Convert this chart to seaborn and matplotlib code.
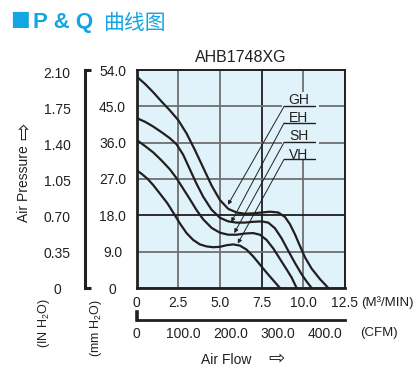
import matplotlib
matplotlib.use('Agg')
import matplotlib.pyplot as plt
import matplotlib.transforms as mtransforms
from matplotlib.patches import Rectangle
import pandas as pd
import seaborn as sns

# P-Q curves: flow in m3/min, static pressure in mmH2O
gh_flow = [0.0, 0.5, 1.0, 1.5, 2.0, 2.5, 3.0, 3.5, 4.0, 4.5, 5.0, 5.5, 6.0, 6.5,
           7.0, 7.5, 8.0, 8.5, 8.9, 9.2, 9.5, 9.8, 10.1, 10.5, 11.0, 11.5]
gh_pres = [52.4, 50.6, 48.5, 46.2, 44.0, 41.6, 38.3, 34.2, 29.8, 25.4, 21.8, 19.6, 18.7, 18.4,
           18.5, 18.7, 18.9, 18.7, 17.6, 15.8, 13.3, 10.4, 7.6, 4.8, 2.2, 0.0]

eh_flow = [0.0, 0.5, 1.0, 1.5, 2.0, 2.4, 2.8, 3.2, 3.6, 4.0, 4.5, 5.0, 5.5, 6.0,
           6.5, 7.0, 7.5, 7.9, 8.3, 8.7, 9.1, 9.5, 9.9, 10.2, 10.5]
eh_pres = [42.1, 41.2, 40.0, 38.6, 37.1, 35.6, 33.0, 29.4, 25.8, 22.6, 19.4, 17.4, 16.5, 16.2,
           16.2, 16.4, 16.5, 16.2, 14.8, 12.3, 9.2, 6.2, 3.4, 1.6, 0.0]

sh_flow = [0.0, 0.5, 1.0, 1.5, 2.0, 2.4, 2.8, 3.2, 3.6, 4.0, 4.5, 5.0, 5.5, 6.0,
           6.5, 7.0, 7.4, 7.8, 8.2, 8.6, 9.0, 9.3, 9.6]
sh_pres = [36.7, 35.2, 33.6, 31.6, 29.4, 27.2, 24.6, 22.0, 19.3, 17.0, 14.9, 13.7, 13.2, 13.2,
           13.5, 13.6, 13.2, 11.9, 9.8, 7.2, 4.6, 2.6, 0.0]

vh_flow = [0.0, 0.3, 0.65, 1.0, 1.4, 1.85, 2.2, 2.6, 3.0, 3.4, 3.8, 4.2, 4.6, 5.0,
           5.4, 5.8, 6.2, 6.6, 7.0, 7.4, 7.8, 8.2, 8.6]
vh_pres = [29.2, 28.3, 27.1, 25.5, 23.4, 21.0, 18.7, 16.0, 13.6, 11.9, 10.8, 10.3, 10.1, 10.2,
           10.6, 10.8, 10.5, 9.5, 7.8, 5.8, 3.8, 1.9, 0.0]

models = ['GH', 'EH', 'SH', 'VH']
flow_ticks = [0, 2.5, 5.0, 7.5, 10.0, 12.5]
flow_labels = ['0', '2.5', '5.0', '7.5', '10.0', '12.5']
mm_ticks = [0, 9, 18, 27, 36, 45, 54]
mm_labels = ['0', '9.0', '18.0', '27.0', '36.0', '45.0', '54.0']
inch_ticks = [0, 0.35, 0.70, 1.05, 1.40, 1.75, 2.10]
inch_labels = ['0', '0.35', '0.70', '1.05', '1.40', '1.75', '2.10']
cfm_ticks = [0, 100, 200, 300, 400]
cfm_labels = ['0', '100.0', '200.0', '300.0', '400.0']
M3MIN_PER_CFM = 0.0283168
MM_PER_INCH = 25.4

df = pd.concat([
    pd.DataFrame({'flow': gh_flow, 'pressure': gh_pres, 'model': 'GH'}),
    pd.DataFrame({'flow': eh_flow, 'pressure': eh_pres, 'model': 'EH'}),
    pd.DataFrame({'flow': sh_flow, 'pressure': sh_pres, 'model': 'SH'}),
    pd.DataFrame({'flow': vh_flow, 'pressure': vh_pres, 'model': 'VH'}),
])

sns.set_theme(style='white')
plt.rcParams['font.family'] = ['Liberation Sans', 'DejaVu Sans']
plt.rcParams['mathtext.fontset'] = 'custom'
plt.rcParams['mathtext.rm'] = 'Liberation Sans'
plt.rcParams['mathtext.default'] = 'rm'

W, H = 417, 370
INK = '#231f20'
BLUE = '#14a5e3'
BG = '#e0f3fa'

fig = plt.figure(figsize=(W / 100, H / 100), dpi=100)


def fx(px):
    return px / W


def fy(py):
    return 1 - py / H


# main plot area
ax = fig.add_axes([fx(136.5), fy(288), fx(345) - fx(136.5), fy(70) - fy(288)])
ax.set_facecolor(BG)
sns.lineplot(data=df, x='flow', y='pressure', hue='model', palette=[INK] * 4,
             estimator=None, sort=False, legend=False, linewidth=1.6, ax=ax, zorder=3)
ax.set_xlim(0, 12.5)
ax.set_ylim(0, 54)
ax.set_xticks(flow_ticks)
ax.set_xticklabels(flow_labels, fontsize=10, color=INK)
ax.set_yticks(mm_ticks)
ax.tick_params(axis='y', length=0, labelleft=False)
ax.tick_params(axis='x', length=0, pad=6)
ax.set_xlabel('')
ax.set_ylabel('')
ax.set_axisbelow(True)
ax.grid(True, color='#6f6f6f', linewidth=1.3)
for v, line in zip(flow_ticks, ax.get_xgridlines()):
    if v == 7.5:
        line.set_color('#1e1e1e')
for v, line in zip(mm_ticks, ax.get_ygridlines()):
    if v == 18:
        line.set_color('#1e1e1e')
for side in ['left', 'bottom']:
    ax.spines[side].set_linewidth(2.0)
    ax.spines[side].set_color(INK)
for side in ['top', 'right']:
    ax.spines[side].set_linewidth(1.4)
    ax.spines[side].set_color(INK)

# box behind the curve names (hides the grid there)
ax.add_patch(Rectangle((8.75, 31.7), 2.17, 16.8, facecolor=BG, edgecolor='none', zorder=1))

# curve names with underline and leader arrow
name_y = [46.6, 42.2, 37.7, 33.0]
line_y = [45.0, 40.9, 36.1, 31.9]
tips = [(5.48, 20.6), (5.68, 16.3), (5.86, 13.6), (6.07, 11.0)]
for name, ty, ly, tip in zip(models, name_y, line_y, tips):
    ax.text(9.71, ty, name, ha='center', va='center', fontsize=10, color=INK, zorder=5)
    ax.plot([8.85, 10.73], [ly, ly], color=INK, linewidth=1.0, zorder=5)
    ax.annotate('', xy=tip, xytext=(8.85, ly),
                arrowprops=dict(arrowstyle='-|>', color=INK, lw=0.7,
                                mutation_scale=6, shrinkA=0, shrinkB=0), zorder=5)

# mmH2O bracket scale
axmm = fig.add_axes([fx(85), fy(288), fx(136.5) - fx(85), fy(70) - fy(288)])
axmm.set_ylim(0, 54)
axmm.set_xlim(0, 1)
axmm.patch.set_alpha(0)
for side in ['top', 'right', 'bottom']:
    axmm.spines[side].set_visible(False)
axmm.spines['left'].set_linewidth(2.2)
axmm.spines['left'].set_color(INK)
axmm.set_xticks([])
axmm.set_yticks(mm_ticks)
axmm.tick_params(axis='y', direction='in', length=4, width=0.9, color=INK, labelleft=False)
axmm.plot([0, 0.11], [0, 0], color=INK, linewidth=2.2, clip_on=False, solid_capstyle='butt')
axmm.plot([0, 0.11], [54, 54], color=INK, linewidth=2.2, clip_on=False, solid_capstyle='butt')

tr_mm = mtransforms.blended_transform_factory(fig.transFigure, ax.transData)
for v, lab in zip(mm_ticks, mm_labels):
    fig.text(fx(112.5), v, lab, transform=tr_mm, ha='center', va='center_baseline',
             fontsize=10, color=INK)
for v, lab in zip(inch_ticks, inch_labels):
    fig.text(fx(57), v * MM_PER_INCH, lab, transform=tr_mm, ha='center', va='center_baseline',
             fontsize=10, color=INK)

# CFM scale below
axcfm = fig.add_axes([fx(136.5), fy(320), fx(345) - fx(136.5), fy(312) - fy(320)])
axcfm.set_xlim(0, 12.5)
axcfm.patch.set_alpha(0)
for side in ['top', 'right']:
    axcfm.spines[side].set_visible(False)
axcfm.spines['bottom'].set_linewidth(2.0)
axcfm.spines['left'].set_linewidth(2.6)
axcfm.spines['bottom'].set_color(INK)
axcfm.spines['left'].set_color(INK)
axcfm.set_yticks([])
axcfm.set_xticks([c * M3MIN_PER_CFM for c in cfm_ticks])
axcfm.set_xticklabels(cfm_labels, fontsize=10, color=INK)
axcfm.tick_params(axis='x', direction='in', length=6, width=0.9, color=INK, pad=5)

# titles and axis captions
fig.text(fx(10), fy(25.5), '\u25a0', fontsize=15, color=BLUE, ha='left', va='baseline',
         family=['DejaVu Sans'])
fig.text(fx(33), fy(28), 'P & Q', fontsize=16, fontweight='bold', color=BLUE,
         ha='left', va='baseline')
fig.text(fx(104), fy(29), '曲线图', fontsize=15, color=BLUE, ha='left', va='baseline',
         family=['Noto Sans CJK SC', 'DejaVu Sans'])
fig.text(fx(241), fy(58), 'AHB1748XG', fontsize=11.5, color=INK, ha='center', va='center')

fig.text(fx(24), fy(184), 'Air Pressure', rotation=90, fontsize=10, color=INK,
         ha='center', va='center')
fig.text(fx(24), fy(131), '\u21e8', rotation=90, fontsize=15, color=INK,
         ha='center', va='center', family=['DejaVu Sans'])
fig.text(fx(44), fy(323), '(IN H$_2$O)', rotation=90, fontsize=9, color=INK,
         ha='center', va='center')
fig.text(fx(96), fy(328), '(mm H$_2$O)', rotation=90, fontsize=9, color=INK,
         ha='center', va='center')
fig.text(fx(361), fy(303), '(M\u00b3/MIN)', fontsize=9.5, color=INK, ha='left', va='center')
fig.text(fx(360), fy(333), '(CFM)', fontsize=9.5, color=INK, ha='left', va='center')
fig.text(fx(226), fy(360), 'Air Flow', fontsize=10, color=INK, ha='center', va='center')
fig.text(fx(277), fy(359), '\u21e8', fontsize=14, color=INK, ha='center', va='center',
         family=['DejaVu Sans'])

fig.savefig('out.png', dpi=100)
